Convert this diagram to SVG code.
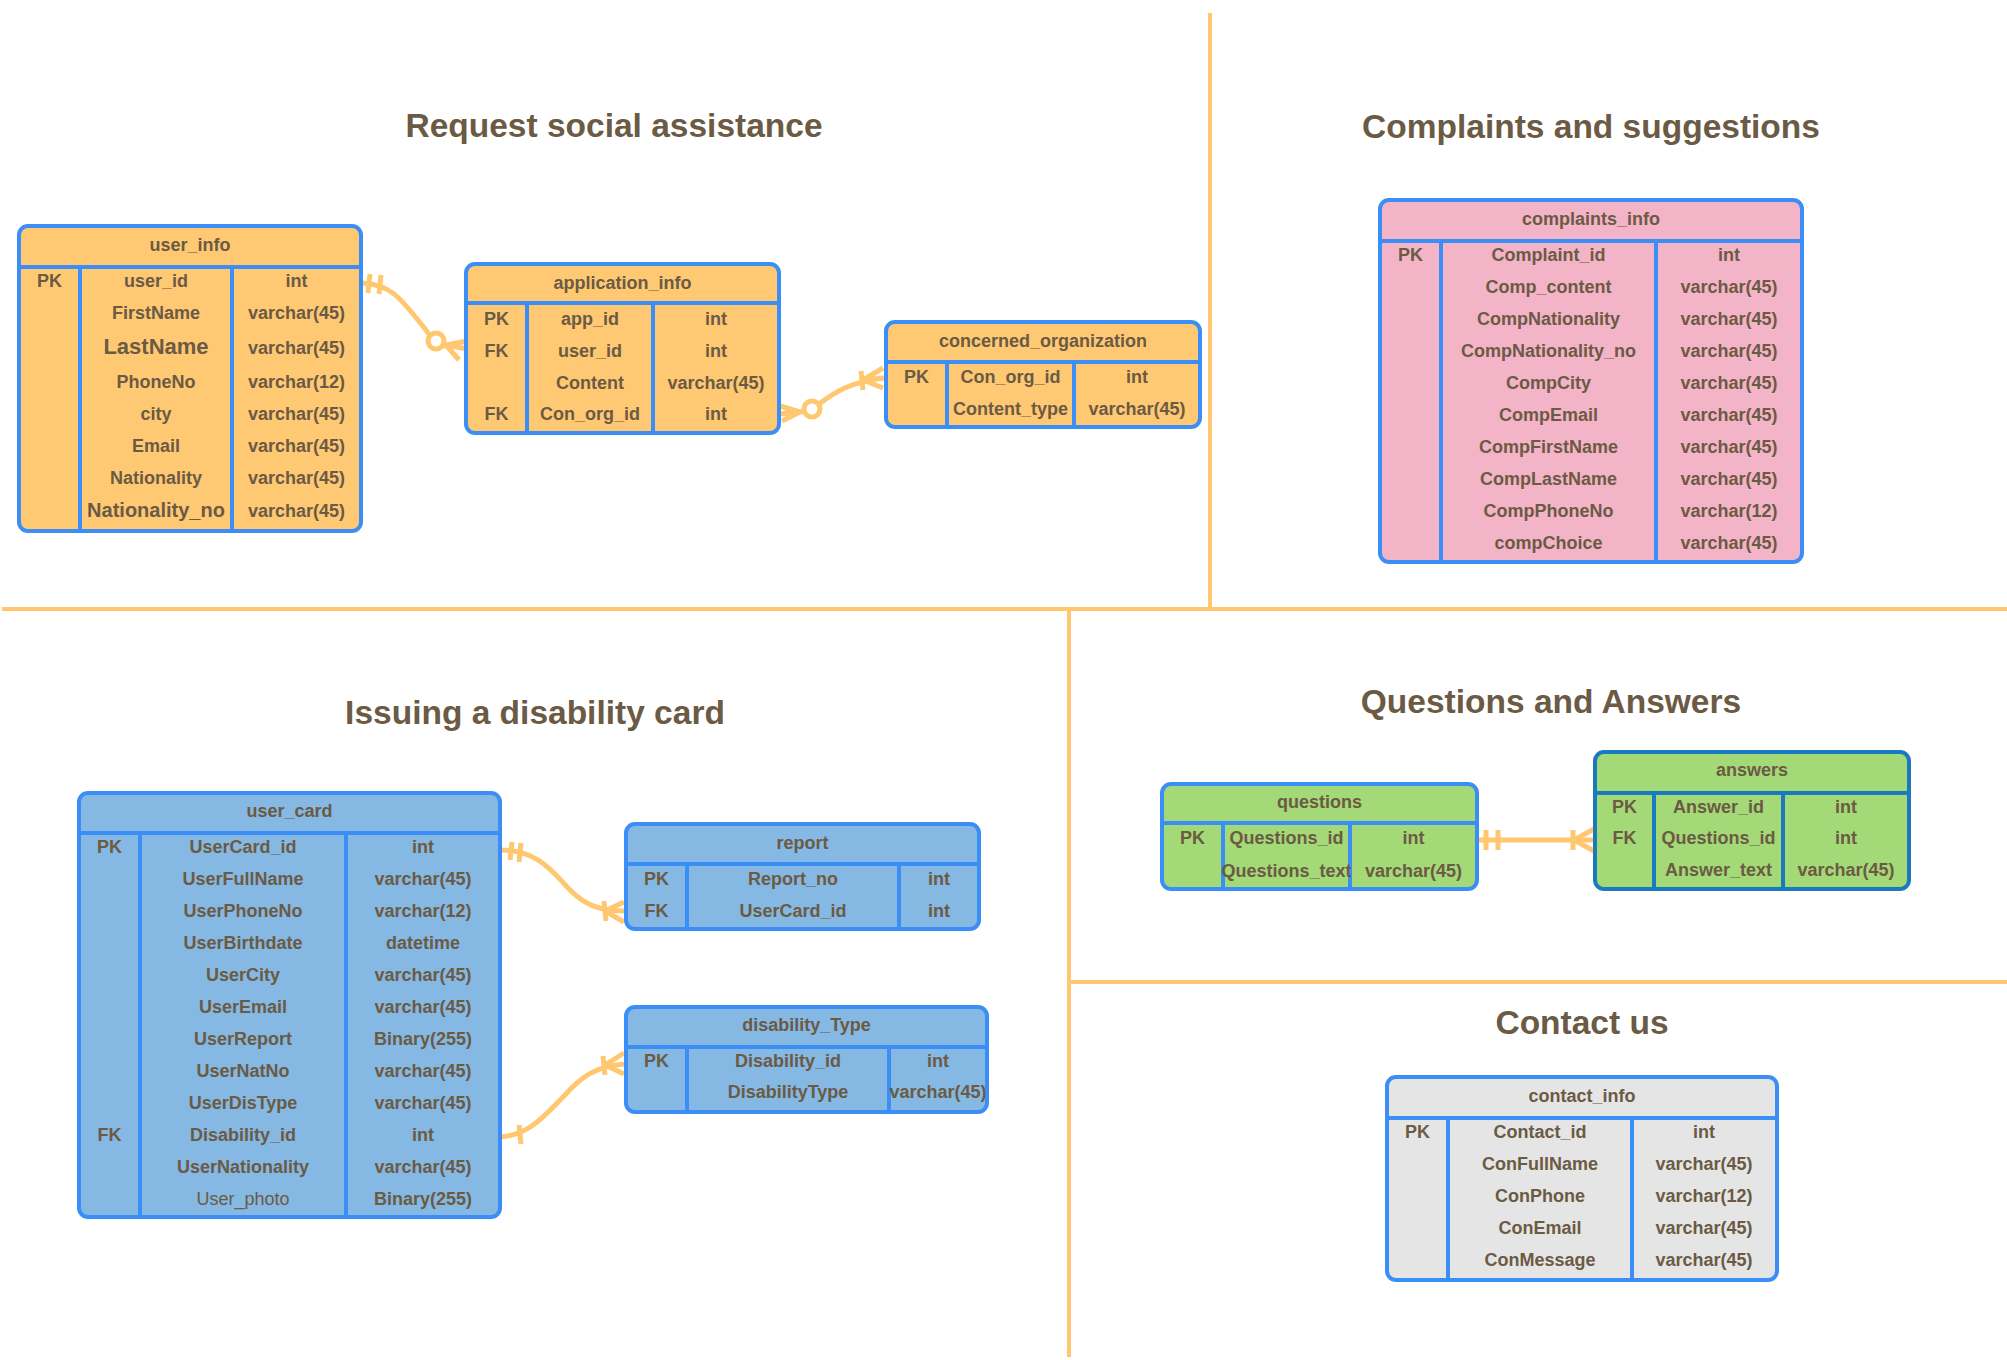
<svg xmlns="http://www.w3.org/2000/svg" width="2007" height="1360" viewBox="0 0 2007 1360">
<style>
.tx{font-family:"Liberation Sans",Arial,Helvetica,sans-serif;font-size:18px;font-weight:bold;fill:#6B5A44;text-anchor:middle}
.ttl{font-family:"Liberation Sans",Arial,Helvetica,sans-serif;font-size:33.5px;font-weight:bold;fill:#6B5A44;text-anchor:middle}
.tb{stroke:#3A8EF5;stroke-width:4}
.ln{fill:none;stroke:#3A8EF5;stroke-width:4}
.or{fill:#FFC973}.pk{fill:#F4B4C8}.bl{fill:#85B8E3}.gr{fill:#A3D977}.gy{fill:#E5E5E5}
.cn{fill:none;stroke:#FFC870;stroke-width:5}
.dv{stroke:#FFC870;stroke-width:4}
</style>
<rect width="2007" height="1360" fill="#FFFFFF"/>
<g id="dividers">
<line class="dv" x1="1210" y1="13" x2="1210" y2="609"/>
<line class="dv" x1="2" y1="609" x2="2007" y2="609"/>
<line class="dv" x1="1069" y1="609" x2="1069" y2="1357"/>
<line class="dv" x1="1069" y1="982" x2="2007" y2="982"/>
</g>
<g id="titles">
<text class="ttl" x="614" y="137">Request social assistance</text>
<text class="ttl" x="1591" y="138">Complaints and suggestions</text>
<text class="ttl" x="535" y="724">Issuing a disability card</text>
<text class="ttl" x="1551" y="713">Questions and Answers</text>
<text class="ttl" x="1582" y="1034">Contact us</text>
</g>
<g id="connectors">
<path class="cn" d="M362,283 C392,284 402,300 429,334"/>
<path class="cn" d="M370,274 L368,293 M381,275 L379,294"/>
<circle class="cn" cx="436" cy="341" r="8"/>
<path class="cn" d="M442,346 L446,345 M446,345 L467,341 M446,345 L467,349 M446,345 L459,360"/>
<path class="cn" d="M780,406 L800,412 M779,414 L800,412 M782,421 L800,412 M800,412 L804,411"/>
<circle class="cn" cx="812" cy="409" r="8"/>
<path class="cn" d="M819,404 C835,392 850,382 884,378"/>
<path class="cn" d="M861,371 L863,390"/>
<path class="cn" d="M863,380 L883,368 M863,380 L883,378 M863,380 L883,388"/>
<path class="cn" d="M500,850 C540,850 555,875 570,890 C585,905 600,911 625,911"/>
<path class="cn" d="M512,842 L510,860 M521,843 L519,862"/>
<path class="cn" d="M604,901 L606,921"/>
<path class="cn" d="M605,911 L624,902 M605,911 L624,922"/>
<path class="cn" d="M500,1137 C530,1135 545,1115 565,1095 C580,1078 595,1066 625,1064"/>
<path class="cn" d="M519,1125 L521,1144"/>
<path class="cn" d="M603,1056 L605,1075"/>
<path class="cn" d="M605,1065 L624,1053 M605,1065 L624,1074"/>
<path class="cn" d="M1477,840 L1595,840"/>
<path class="cn" d="M1486,830 L1486,850 M1498,830 L1498,850"/>
<path class="cn" d="M1573,830 L1573,850"/>
<path class="cn" d="M1574,840 L1594,829 M1574,840 L1594,851"/>
</g>
<g id="user_info">
<rect class="or tb" x="19" y="226" width="342" height="305" rx="9"/>
<path class="ln" d="M19,267H361M80,267V531M232,267V531"/>
<text class="tx" x="190" y="251">user_info</text>
<text class="tx" x="49.5" y="287">PK</text>
<text class="tx" x="156" y="287">user_id</text><text class="tx" x="296.5" y="287">int</text>
<text class="tx" x="156" y="319">FirstName</text><text class="tx" x="296.5" y="319">varchar(45)</text>
<text class="tx" x="156" y="354" style="font-size:22px">LastName</text><text class="tx" x="296.5" y="354">varchar(45)</text>
<text class="tx" x="156" y="388">PhoneNo</text><text class="tx" x="296.5" y="388">varchar(12)</text>
<text class="tx" x="156" y="420">city</text><text class="tx" x="296.5" y="420">varchar(45)</text>
<text class="tx" x="156" y="452">Email</text><text class="tx" x="296.5" y="452">varchar(45)</text>
<text class="tx" x="156" y="484">Nationality</text><text class="tx" x="296.5" y="484">varchar(45)</text>
<text class="tx" x="156" y="517" style="font-size:20px">Nationality_no</text><text class="tx" x="296.5" y="517">varchar(45)</text>
</g>
<g id="application_info">
<rect class="or tb" x="466" y="264" width="313" height="169" rx="9"/>
<path class="ln" d="M466,303H779M527,303V433M653,303V433"/>
<text class="tx" x="622.5" y="289">application_info</text>
<text class="tx" x="496.5" y="325">PK</text><text class="tx" x="590" y="325">app_id</text><text class="tx" x="716" y="325">int</text>
<text class="tx" x="496.5" y="357">FK</text><text class="tx" x="590" y="357">user_id</text><text class="tx" x="716" y="357">int</text>
<text class="tx" x="590" y="389">Content</text><text class="tx" x="716" y="389">varchar(45)</text>
<text class="tx" x="496.5" y="420">FK</text><text class="tx" x="590" y="420">Con_org_id</text><text class="tx" x="716" y="420">int</text>
</g>
<g id="concerned_organization">
<rect class="or tb" x="886" y="322" width="314" height="105" rx="9"/>
<path class="ln" d="M886,362H1200M947,362V427M1074,362V427"/>
<text class="tx" x="1043" y="347">concerned_organization</text>
<text class="tx" x="916.5" y="383">PK</text><text class="tx" x="1010.5" y="383">Con_org_id</text><text class="tx" x="1137" y="383">int</text>
<text class="tx" x="1010.5" y="415">Content_type</text><text class="tx" x="1137" y="415">varchar(45)</text>
</g>
<g id="complaints_info">
<rect class="pk tb" x="1380" y="200" width="422" height="362" rx="9"/>
<path class="ln" d="M1380,241H1802M1441,241V562M1656,241V562"/>
<text class="tx" x="1591" y="225">complaints_info</text>
<text class="tx" x="1410.5" y="261">PK</text>
<text class="tx" x="1548.5" y="261">Complaint_id</text><text class="tx" x="1729" y="261">int</text>
<text class="tx" x="1548.5" y="293">Comp_content</text><text class="tx" x="1729" y="293">varchar(45)</text>
<text class="tx" x="1548.5" y="325">CompNationality</text><text class="tx" x="1729" y="325">varchar(45)</text>
<text class="tx" x="1548.5" y="357">CompNationality_no</text><text class="tx" x="1729" y="357">varchar(45)</text>
<text class="tx" x="1548.5" y="389">CompCity</text><text class="tx" x="1729" y="389">varchar(45)</text>
<text class="tx" x="1548.5" y="421">CompEmail</text><text class="tx" x="1729" y="421">varchar(45)</text>
<text class="tx" x="1548.5" y="453">CompFirstName</text><text class="tx" x="1729" y="453">varchar(45)</text>
<text class="tx" x="1548.5" y="485">CompLastName</text><text class="tx" x="1729" y="485">varchar(45)</text>
<text class="tx" x="1548.5" y="517">CompPhoneNo</text><text class="tx" x="1729" y="517">varchar(12)</text>
<text class="tx" x="1548.5" y="549">compChoice</text><text class="tx" x="1729" y="549">varchar(45)</text>
</g>
<g id="user_card">
<rect class="bl tb" x="79" y="793" width="421" height="424" rx="9"/>
<path class="ln" d="M79,833H500M140,833V1217M346,833V1217"/>
<text class="tx" x="289.5" y="817">user_card</text>
<text class="tx" x="109.5" y="853">PK</text>
<text class="tx" x="243" y="853">UserCard_id</text><text class="tx" x="423" y="853">int</text>
<text class="tx" x="243" y="885">UserFullName</text><text class="tx" x="423" y="885">varchar(45)</text>
<text class="tx" x="243" y="917">UserPhoneNo</text><text class="tx" x="423" y="917">varchar(12)</text>
<text class="tx" x="243" y="949">UserBirthdate</text><text class="tx" x="423" y="949">datetime</text>
<text class="tx" x="243" y="981">UserCity</text><text class="tx" x="423" y="981">varchar(45)</text>
<text class="tx" x="243" y="1013">UserEmail</text><text class="tx" x="423" y="1013">varchar(45)</text>
<text class="tx" x="243" y="1045">UserReport</text><text class="tx" x="423" y="1045">Binary(255)</text>
<text class="tx" x="243" y="1077">UserNatNo</text><text class="tx" x="423" y="1077">varchar(45)</text>
<text class="tx" x="243" y="1109">UserDisType</text><text class="tx" x="423" y="1109">varchar(45)</text>
<text class="tx" x="109.5" y="1141">FK</text>
<text class="tx" x="243" y="1141">Disability_id</text><text class="tx" x="423" y="1141">int</text>
<text class="tx" x="243" y="1173">UserNationality</text><text class="tx" x="423" y="1173">varchar(45)</text>
<text class="tx" x="243" y="1205" style="font-weight:normal">User_photo</text><text class="tx" x="423" y="1205">Binary(255)</text>
</g>
<g id="report">
<rect class="bl tb" x="626" y="824" width="353" height="105" rx="9"/>
<path class="ln" d="M626,864H979M687,864V929M899,864V929"/>
<text class="tx" x="802.5" y="849">report</text>
<text class="tx" x="656.5" y="885">PK</text><text class="tx" x="793" y="885">Report_no</text><text class="tx" x="939" y="885">int</text>
<text class="tx" x="656.5" y="917">FK</text><text class="tx" x="793" y="917">UserCard_id</text><text class="tx" x="939" y="917">int</text>
</g>
<g id="disability_Type">
<rect class="bl tb" x="626" y="1007" width="361" height="105" rx="9"/>
<path class="ln" d="M626,1047H987M687,1047V1112M889,1047V1112"/>
<text class="tx" x="806.5" y="1031">disability_Type</text>
<text class="tx" x="656.5" y="1067">PK</text><text class="tx" x="788" y="1067">Disability_id</text><text class="tx" x="938" y="1067">int</text>
<text class="tx" x="788" y="1098">DisabilityType</text><text class="tx" x="938" y="1098">varchar(45)</text>
</g>
<g id="questions">
<rect class="gr tb" x="1162" y="784" width="315" height="105" rx="9"/>
<path class="ln" d="M1162,823H1477M1223,823V889M1350,823V889"/>
<text class="tx" x="1319.5" y="808">questions</text>
<text class="tx" x="1192.5" y="844">PK</text><text class="tx" x="1286.5" y="844">Questions_id</text><text class="tx" x="1413.5" y="844">int</text>
<text class="tx" x="1286.5" y="877">Questions_text</text><text class="tx" x="1413.5" y="877">varchar(45)</text>
</g>
<g id="answers">
<rect class="gr" x="1595" y="752" width="314" height="137" rx="9" stroke="#1A7AC0" stroke-width="4"/>
<path d="M1595,793H1909M1654,793V889M1783,793V889" fill="none" stroke="#1A7AC0" stroke-width="4"/>
<text class="tx" x="1752" y="776">answers</text>
<text class="tx" x="1624.5" y="813">PK</text><text class="tx" x="1718.5" y="813">Answer_id</text><text class="tx" x="1846" y="813">int</text>
<text class="tx" x="1624.5" y="844">FK</text><text class="tx" x="1718.5" y="844">Questions_id</text><text class="tx" x="1846" y="844">int</text>
<text class="tx" x="1718.5" y="876">Answer_text</text><text class="tx" x="1846" y="876">varchar(45)</text>
</g>
<g id="contact_info">
<rect class="gy tb" x="1387" y="1077" width="390" height="203" rx="9"/>
<path class="ln" d="M1387,1118H1777M1448,1118V1280M1632,1118V1280"/>
<text class="tx" x="1582" y="1102">contact_info</text>
<text class="tx" x="1417.5" y="1138">PK</text>
<text class="tx" x="1540" y="1138">Contact_id</text><text class="tx" x="1704" y="1138">int</text>
<text class="tx" x="1540" y="1170">ConFullName</text><text class="tx" x="1704" y="1170">varchar(45)</text>
<text class="tx" x="1540" y="1202">ConPhone</text><text class="tx" x="1704" y="1202">varchar(12)</text>
<text class="tx" x="1540" y="1234">ConEmail</text><text class="tx" x="1704" y="1234">varchar(45)</text>
<text class="tx" x="1540" y="1266">ConMessage</text><text class="tx" x="1704" y="1266">varchar(45)</text>
</g>
</svg>
